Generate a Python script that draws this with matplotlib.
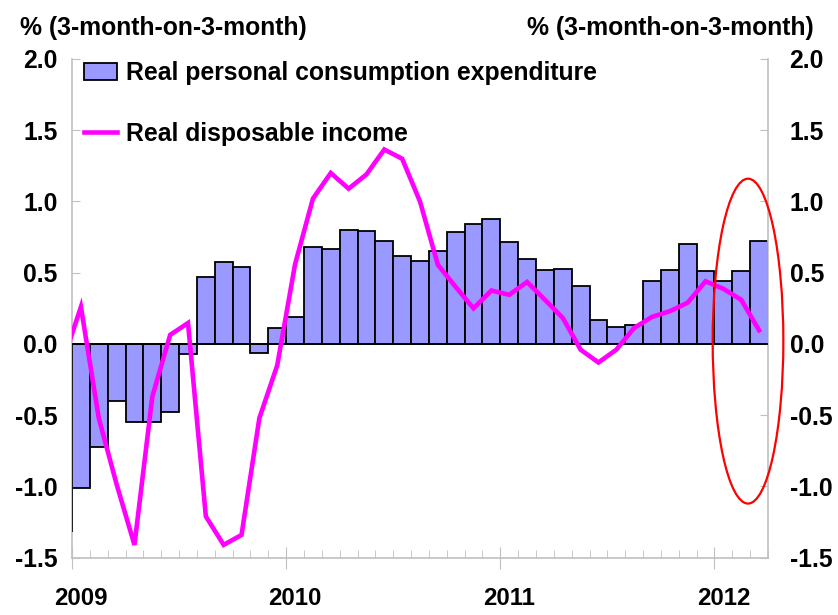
import numpy as np
import matplotlib.pyplot as plt
from matplotlib.patches import Ellipse
from matplotlib.lines import Line2D
from matplotlib.patches import Patch
import matplotlib.transforms as mtransforms

plt.rcParams['font.family'] = ['Liberation Sans', 'DejaVu Sans']
plt.rcParams['font.weight'] = 'bold'

# monthly, Jan 2009 .. Mar 2012
years = ['2009', '2010', '2011', '2012']
consumption = [-1.01, -0.72, -0.40, -0.55, -0.55, -0.475, -0.07, 0.47, 0.575, 0.54,
               -0.06, 0.11, 0.19, 0.68, 0.67, 0.80, 0.795, 0.72, 0.62, 0.58,
               0.65, 0.785, 0.845, 0.88, 0.715, 0.595, 0.52, 0.525, 0.41, 0.17,
               0.12, 0.13, 0.44, 0.52, 0.70, 0.515, 0.44, 0.51, 0.72]
# starts at Dec 2008 (clipped at the left edge)
income = [-0.12, 0.26, -0.52, -0.985, -1.41, -0.37, 0.064, 0.147, -1.21, -1.41,
          -1.34, -0.52, -0.15, 0.56, 1.02, 1.20, 1.09, 1.19, 1.365, 1.30,
          1.00, 0.556, 0.40, 0.25, 0.375, 0.345, 0.435, 0.31, 0.183, -0.04,
          -0.13, -0.04, 0.113, 0.19, 0.23, 0.29, 0.44, 0.387, 0.31, 0.096]

bar_color = '#9999ff'
line_color = '#ff00ff'
grey = '#c0c0c0'
fs = 17.8

fig = plt.figure(figsize=(8.38, 6.15), dpi=100)
ax = fig.add_axes([72/838, 1 - 557.7/615, 696/838, 498.7/615])

n = len(consumption)
x = np.arange(n)
ax.bar(x, consumption, width=1.0, color=bar_color, edgecolor='black', linewidth=1.3,
       zorder=2, label='Real personal consumption expenditure')
ax.axhline(0, color='black', lw=1.2, zorder=3)
ax.plot(np.arange(-1, n), income, color=line_color, lw=3.3, zorder=4,
        solid_joinstyle='miter', label='Real disposable income')
ax.vlines(-0.5, -1.32, 0, color='black', lw=1.2, zorder=3)

ax.set_xlim(-0.5, n - 0.5)
ax.set_ylim(-1.5, 2.0)

ax.spines['top'].set_visible(False)
for s in ['left', 'right', 'bottom']:
    ax.spines[s].set_color(grey)
    ax.spines[s].set_linewidth(1.2)

yt = np.arange(-1.5, 2.01, 0.5)
ax.set_yticks(yt)
ax.set_yticklabels(['%.1f' % v for v in yt])
ax.tick_params(axis='y', which='both', direction='in', length=6, color=grey,
               left=True, right=True, labelleft=True, labelright=True,
               labelsize=fs, pad=10.5)
for lab in ax.get_yticklabels():
    lab.set_fontweight('bold')
# right labels further out
for t in ax.yaxis.get_major_ticks():
    t.label2.set_transform(t.label2.get_transform() +
                           mtransforms.ScaledTranslation(5/72, 0, fig.dpi_scale_trans))

year_edges = [-0.5, 11.5, 23.5, 35.5]
ax.set_xticks(year_edges)
ax.set_xticklabels(years, fontsize=17.3, fontweight='bold')
ax.set_xticks(np.arange(-0.5, n, 1.0), minor=True)
ax.tick_params(axis='x', which='major', direction='inout', length=16, color=grey, pad=13)
ax.tick_params(axis='x', which='minor', direction='in', length=6, color=grey)
off = mtransforms.ScaledTranslation(8.9/100, 0, fig.dpi_scale_trans)
for lab in ax.get_xticklabels():
    lab.set_transform(lab.get_transform() + off)

fig.text(20/838, 1 - 28/615, '% (3-month-on-3-month)', fontsize=fs, fontweight='bold',
         ha='left', va='center')
fig.text(814/838, 1 - 28/615, '% (3-month-on-3-month)', fontsize=fs, fontweight='bold',
         ha='right', va='center')

handles = [Patch(facecolor=bar_color, edgecolor='black', linewidth=1.3),
           Line2D([0], [0], color=line_color, lw=3.3)]
labels = ['Real personal consumption expenditure', 'Real disposable income']
ax.legend(handles, labels, loc='upper left', bbox_to_anchor=(84/838, 1 - 61/615),
          bbox_transform=fig.transFigure, frameon=False,
          handlelength=1.35, handletextpad=0.33, labelspacing=1.5, borderpad=0,
          borderaxespad=0, prop={'weight': 'bold', 'size': fs})

ell = Ellipse((37.38, 0.02), 3.96, 2.28, fill=False, edgecolor='red', lw=1.6,
              clip_on=False, zorder=5)
ax.add_patch(ell)

fig.savefig('out.png', dpi=100)
